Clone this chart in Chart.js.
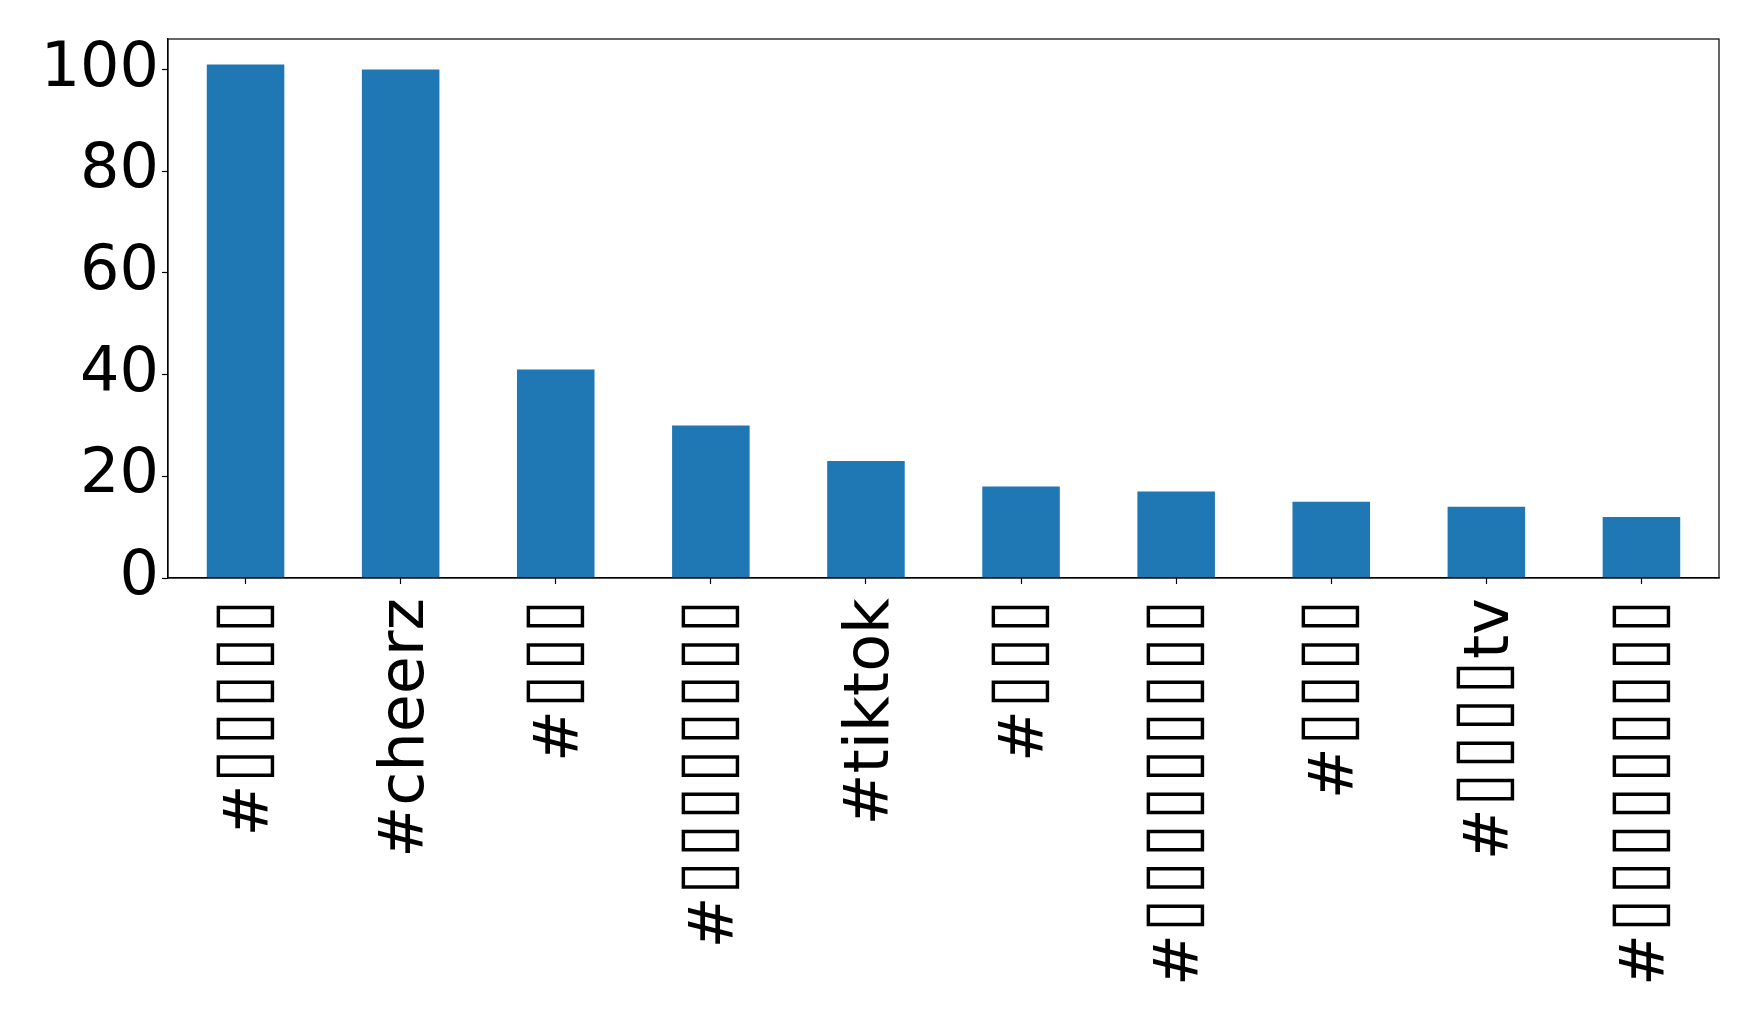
<!DOCTYPE html>
<html>
<head>
<meta charset="utf-8">
<script src="https://cdn.jsdelivr.net/npm/chart.js@4.4.1/dist/chart.umd.min.js"></script>
<style>
  html, body { margin: 0; padding: 0; background: #fff; }
  #chart-wrap { width: 1758px; height: 1018px; position: relative; }
</style>
</head>
<body>
<div id="chart-wrap"><canvas id="hashtag-chart"></canvas></div>
<script>
"use strict";

// hashtags; the Japanese glyphs only show up as empty boxes in the source picture
const hashtags = [
  "#⌷⌷⌷⌷⌷",
  "#cheerz",
  "#⌷⌷⌷",
  "#⌷⌷⌷⌷⌷⌷⌷⌷",
  "#tiktok",
  "#⌷⌷⌷",
  "#⌷⌷⌷⌷⌷⌷⌷⌷⌷",
  "#⌷⌷⌷⌷",
  "#⌷⌷⌷⌷tv",
  "#⌷⌷⌷⌷⌷⌷⌷⌷⌷",
];
const counts = [101, 100, 41, 30, 23, 18, 17, 15, 14, 12];
const yTicks = [0, 20, 40, 60, 80, 100];

const FONT = "'DejaVu Sans', 'DejaVu Sans Mono', sans-serif";
const BAR_BLUE = "#1f77b4";

// black frame around the plot area, like matplotlib's spines
const frameBox = {
  id: "frameBox",
  afterDraw(chart) {
    const { ctx, chartArea } = chart;
    ctx.save();
    ctx.strokeStyle = "#000";
    ctx.lineWidth = 1.2;
    ctx.strokeRect(chartArea.left, chartArea.top,
      chartArea.right - chartArea.left, chartArea.bottom - chartArea.top);
    ctx.restore();
  },
};

const chartCanvas = document.getElementById("hashtag-chart");

new Chart(chartCanvas, {
  type: "bar",
  data: {
    labels: hashtags,
    datasets: [
      {
        data: counts,
        backgroundColor: BAR_BLUE,
        borderWidth: 0,
        categoryPercentage: 1.0,
        barPercentage: 0.5,
      },
    ],
  },
  options: {
    responsive: true,
    maintainAspectRatio: false,
    animation: false,
    layout: { padding: { top: 39, right: 39, left: 0, bottom: 0 } },
    plugins: {
      legend: { display: false },
      tooltip: { enabled: false },
    },
    scales: {
      x: {
        offset: true,
        border: { display: true, color: "#000", width: 1.2 },
        grid: {
          display: true,
          offset: false,
          drawOnChartArea: false,
          drawTicks: true,
          tickLength: 6,
          tickColor: "#000",
          tickWidth: 1.2,
        },
        ticks: {
          minRotation: 90,
          maxRotation: 90,
          autoSkip: false,
          padding: 14,
          labelOffset: 6,
          color: "#000",
          font: { family: FONT, size: 62 },
        },
        afterFit(scale) {
          scale.height = 440;
          scale.paddingLeft = 0;
          scale.paddingRight = 0;
        },
      },
      y: {
        min: 0,
        max: 106,
        border: { display: true, color: "#000", width: 1.2 },
        grid: {
          display: true,
          drawOnChartArea: false,
          drawTicks: true,
          tickLength: 6,
          tickColor: "#000",
          tickWidth: 1.2,
        },
        afterBuildTicks(scale) {
          scale.ticks = yTicks.map((v) => ({ value: v }));
        },
        ticks: {
          padding: 3,
          color: "#000",
          font: { family: FONT, size: 62 },
        },
        afterFit(scale) {
          scale.width = 168;
          scale.paddingTop = 0;
          scale.paddingBottom = 0;
        },
      },
    },
  },
  plugins: [frameBox],
});
</script>
</body>
</html>
